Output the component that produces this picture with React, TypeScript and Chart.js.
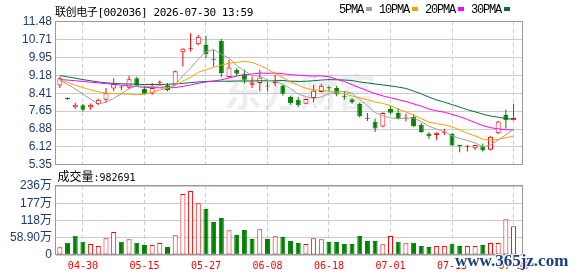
import React, { useEffect, useRef } from 'react';
import { Chart, registerables } from 'chart.js';
Chart.register(...registerables);

// ---------- data ----------
const dates = [
  '04-27','04-28','04-29','04-30','05-06','05-07','05-08','05-11','05-12','05-13',
  '05-14','05-15','05-18','05-19','05-20','05-21','05-22','05-25','05-26','05-27',
  '05-28','05-29','06-01','06-02','06-03','06-04','06-05','06-08','06-09','06-10',
  '06-11','06-12','06-15','06-16','06-17','06-18','06-22','06-23','06-24','06-25',
  '06-26','06-29','06-30','07-01','07-02','07-03','07-06','07-07','07-08','07-09',
  '07-10','07-13','07-21','07-22','07-23','07-24','07-27','07-28','07-29','07-30',
];
const tickIdx = [3, 11, 19, 27, 35, 43, 51, 59];

const opens = [
  8.75, 8.20, 7.81, 7.90, 7.81, 7.95, 8.14, 8.62, 8.70, 8.65,
  9.06, 8.61, 8.42, 8.87, 8.76, 8.79, 10.17, 10.30, 10.51, 10.48,
  9.87, 10.66, 9.11, 9.42, 9.23, 8.78, 8.85, 8.72, 8.85, 8.75,
  8.25, 8.14, 7.97, 8.21, 8.47, 8.65, 8.64, 8.29, 8.16, 7.95,
  7.34, 7.19, 6.99, 7.74, 7.57, 7.33, 7.40, 7.07, 6.69, 6.63,
  6.72, 6.67, 6.17, 6.12, 6.06, 6.16, 6.00, 6.70, 7.48, 7.26,
];
const highs = [
  9.12, 8.23, 8.01, 7.95, 7.98, 8.18, 8.64, 9.06, 8.74, 9.16,
  9.12, 8.71, 8.85, 8.96, 8.85, 9.39, 10.34, 10.98, 10.91, 10.87,
  10.27, 10.74, 9.85, 9.49, 9.42, 9.13, 9.42, 8.92, 9.20, 8.78,
  8.31, 8.25, 8.19, 8.78, 8.82, 8.71, 8.74, 8.50, 8.20, 8.02,
  7.57, 7.33, 7.60, 7.88, 7.78, 7.54, 7.50, 7.14, 6.74, 6.74,
  6.89, 6.72, 6.20, 6.20, 6.20, 6.26, 6.57, 7.23, 7.71, 7.97,
];
const lows = [
  8.64, 8.14, 7.73, 7.63, 7.71, 7.91, 8.03, 8.50, 8.54, 8.59,
  8.71, 8.38, 8.35, 8.75, 8.50, 8.76, 9.56, 10.20, 10.47, 9.92,
  9.56, 9.11, 9.10, 9.14, 8.82, 8.64, 8.50, 8.50, 8.71, 8.32,
  7.92, 7.83, 7.95, 8.03, 8.45, 8.50, 8.29, 8.14, 7.97, 7.38,
  7.23, 6.76, 6.96, 7.50, 7.29, 7.21, 6.97, 6.72, 6.46, 6.40,
  6.62, 6.15, 5.89, 5.92, 5.98, 5.92, 5.97, 6.67, 6.89, 7.26,
];
const closes = [
  9.06, 8.17, 7.92, 7.71, 7.92, 8.14, 8.42, 8.81, 8.66, 9.02,
  8.74, 8.39, 8.64, 8.89, 8.55, 9.36, 10.32, 10.34, 10.84, 10.09,
  9.85, 9.28, 9.52, 9.25, 8.99, 8.88, 9.09, 8.70, 8.92, 8.39,
  7.99, 7.90, 8.17, 8.52, 8.74, 8.63, 8.36, 8.27, 8.04, 7.43,
  7.32, 6.90, 7.57, 7.58, 7.31, 7.37, 7.00, 6.76, 6.57, 6.72,
  6.78, 6.18, 6.15, 6.16, 6.20, 5.96, 6.55, 7.20, 7.26, 7.36,
];
const volumes = [
  262000, 421000, 660000, 455000, 376000, 307000, 569000, 785000, 455000, 535000,
  421000, 341000, 341000, 410000, 273000, 672000, 2083000, 2185000, 1764000, 1571000,
  1127000, 1263000, 842000, 683000, 854000, 546000, 876000, 546000, 637000, 615000,
  478000, 410000, 376000, 569000, 535000, 444000, 444000, 376000, 376000, 649000,
  478000, 478000, 364000, 649000, 455000, 398000, 421000, 307000, 273000, 307000,
  307000, 387000, 307000, 307000, 307000, 341000, 410000, 410000, 1218000, 982691,
];
const ma5 = [
  8.96, 8.80, 8.60, 8.38, 8.16, 7.97, 8.02, 8.20, 8.39, 8.61,
  8.73, 8.72, 8.69, 8.74, 8.64, 8.77, 9.16, 9.49, 9.88, 10.19,
  10.29, 10.08, 9.92, 9.60, 9.38, 9.18, 9.15, 8.98, 8.92, 8.80,
  8.62, 8.38, 8.27, 8.19, 8.26, 8.39, 8.48, 8.50, 8.41, 8.15,
  7.88, 7.59, 7.45, 7.36, 7.33, 7.34, 7.36, 7.20, 7.00, 6.88,
  6.77, 6.60, 6.48, 6.39, 6.29, 6.12, 6.20, 6.41, 6.63, 6.87,
];
const ma10 = [
  8.99, 8.88, 8.76, 8.66, 8.56, 8.48, 8.42, 8.40, 8.39, 8.38,
  8.35, 8.37, 8.45, 8.56, 8.63, 8.75, 8.94, 9.09, 9.31, 9.42,
  9.53, 9.62, 9.70, 9.74, 9.78, 9.74, 9.61, 9.45, 9.26, 9.09,
  8.90, 8.76, 8.63, 8.56, 8.53, 8.51, 8.43, 8.39, 8.30, 8.21,
  8.14, 8.04, 7.98, 7.88, 7.74, 7.61, 7.48, 7.33, 7.18, 7.11,
  7.06, 6.98, 6.84, 6.70, 6.59, 6.45, 6.40, 6.44, 6.51, 6.58,
];
const ma20 = [
  9.00, 8.98, 8.95, 8.92, 8.89, 8.86, 8.83, 8.80, 8.76, 8.73,
  8.70, 8.67, 8.65, 8.65, 8.64, 8.66, 8.71, 8.77, 8.84, 8.90,
  8.94, 8.99, 9.07, 9.15, 9.21, 9.24, 9.28, 9.27, 9.28, 9.25,
  9.21, 9.19, 9.17, 9.15, 9.16, 9.12, 9.02, 8.92, 8.78, 8.65,
  8.52, 8.40, 8.30, 8.22, 8.14, 8.06, 7.96, 7.86, 7.74, 7.66,
  7.60, 7.51, 7.41, 7.29, 7.16, 7.03, 6.94, 6.89, 6.85, 6.84,
];
const ma30 = [
  9.17, 9.12, 9.06, 9.00, 8.95, 8.90, 8.86, 8.84, 8.82, 8.81,
  8.80, 8.79, 8.79, 8.79, 8.80, 8.81, 8.84, 8.87, 8.90, 8.92,
  8.93, 8.93, 8.93, 8.94, 8.94, 8.94, 8.95, 8.95, 8.95, 8.96,
  8.93, 8.92, 8.93, 8.95, 8.98, 9.00, 8.99, 8.98, 8.96, 8.90,
  8.86, 8.81, 8.77, 8.73, 8.68, 8.62, 8.51, 8.39, 8.25, 8.13,
  8.03, 7.93, 7.82, 7.71, 7.62, 7.52, 7.44, 7.39, 7.33, 7.30,
];
const priceTicks = [5.35, 6.12, 6.88, 7.65, 8.41, 9.18, 9.95, 10.71, 11.48];
const volTicks = [0, 589000, 1178000, 1767000, 2356000];
const volTickLabels = ['0', '58.90万', '118万', '177万', '236万'];
const titleText = '联创电子[002036] 2026-07-30 13:59';
const legendNames = ['5PMA', '10PMA', '20PMA', '30PMA'];
const volLabelName = '成交量';
const volLabelValue = ':982691';
const watermarkCn = '东方财富';
const watermarkUrl = 'www.365jz.com';

// ---------- styles ----------
const RED = '#ff0000';
const GREEN = '#008000';
const MA_COLORS = ['#a0a0a0', '#f5a200', '#ff00ff', '#00703c'];
const GRID = '#cccccc';
const FRAME = '#999999';
const AXIS_TEXT = '#1d3b6f';
const X_MIN = -0.5;
const X_MAX = 60.19;

const isUp = (i: number) => closes[i] >= opens[i];
const volUp = (i: number) => (i === 0 ? closes[0] >= opens[0] : closes[i] >= closes[i - 1]);

const tickFont = { family: '"Liberation Sans", "Noto Sans CJK SC", sans-serif', size: 12 };

function frameRect(chart: any) {
  const { ctx, chartArea: a } = chart;
  const f = (v: number) => Math.floor(v - 0.3) + 0.5;
  ctx.save();
  ctx.strokeStyle = FRAME;
  ctx.lineWidth = 1;
  ctx.setLineDash([]);
  ctx.strokeRect(f(a.left), f(a.top), f(a.right) - f(a.left), f(a.bottom) - f(a.top));
  ctx.restore();
}

const xAxisCommon = {
  type: 'linear' as const,
  min: X_MIN,
  max: X_MAX,
  offset: false,
  afterBuildTicks: (axis: any) => {
    axis.ticks = tickIdx.map((v) => ({ value: v }));
  },
  grid: { color: GRID, drawTicks: false, offset: false },
  border: { display: false, dash: [4, 3] },
};

function priceConfig(): any {
  const maSets = [ma5, ma10, ma20, ma30].map((arr, k) => ({
    type: 'line',
    label: legendNames[k],
    data: arr.map((v, i) => ({ x: i, y: v })),
    borderColor: MA_COLORS[k],
    borderWidth: 1,
    pointRadius: 0,
    tension: 0,
    order: 0,
  }));
  const bodies = {
    type: 'bar',
    label: 'body',
    data: opens.map((o, i) => ({ x: i, y: [o, closes[i]] })),
    backgroundColor: (c: any) => (isUp(c.dataIndex) ? '#ffffff' : GREEN),
    borderColor: (c: any) => (isUp(c.dataIndex) ? RED : GREEN),
    borderWidth: 1,
    borderSkipped: false,
    barThickness: 5,
    minBarLength: 1,
    grouped: false,
    inflateAmount: 0,
    order: 1,
  };
  const wicks = {
    type: 'bar',
    label: 'wick',
    data: lows.map((l, i) => ({ x: i, y: [l, highs[i]] })),
    backgroundColor: (c: any) => (isUp(c.dataIndex) ? RED : GREEN),
    borderWidth: 0,
    barThickness: 1,
    grouped: false,
    inflateAmount: 0,
    order: 2,
  };
  const textPlugin = {
    id: 'priceText',
    beforeDatasetsDraw(chart: any) {
      const { ctx } = chart;
      ctx.save();
      ctx.font = 'bold 38px "Noto Sans CJK SC"';
      ctx.fillStyle = 'rgba(185,185,200,0.24)';
      ctx.textBaseline = 'middle';
      ctx.textAlign = 'left';
      ctx.fillText(watermarkCn, 224, 92);
      ctx.restore();
    },
    afterDraw(chart: any) {
      frameRect(chart);
      const { ctx } = chart;
      ctx.save();
      ctx.fillStyle = '#000000';
      ctx.textBaseline = 'alphabetic';
      ctx.textAlign = 'left';
      ctx.font = '11px "DejaVu Sans Mono", "Noto Sans CJK SC"';
      (ctx as any).letterSpacing = '-0.4px';
      ctx.fillText(titleText, 55, 16);
      ctx.font = '12px "Liberation Mono", monospace';
      (ctx as any).letterSpacing = '-1.2px';
      let x = 339;
      legendNames.forEach((name, k) => {
        ctx.fillStyle = '#000000';
        ctx.fillText(name, x, 12.7);
        x += name.length * 6 + 3;
        ctx.fillStyle = MA_COLORS[k];
        ctx.fillRect(x, 7, 6, 4);
        x += 6 + 7;
      });
      (ctx as any).letterSpacing = '0px';
      ctx.restore();
    },
  };
  return {
    type: 'bar',
    data: { datasets: [...maSets, bodies, wicks] },
    options: {
      animation: false,
      responsive: false,
      devicePixelRatio: 1,
      events: [],
      layout: { padding: { top: 21.7, right: 55.3, bottom: 10.7, left: 0 } },
      plugins: { legend: { display: false }, tooltip: { enabled: false }, title: { display: false } },
      scales: {
        x: {
          ...xAxisCommon,
          ticks: { display: false },
          afterFit: (s: any) => { s.height = 0; },
        },
        y: {
          type: 'linear',
          min: 5.35,
          max: 11.48,
          beginAtZero: false,
          afterBuildTicks: (axis: any) => {
            axis.ticks = priceTicks.map((v) => ({ value: v }));
          },
          afterFit: (s: any) => { s.width = 56; },
          ticks: {
            padding: 4,
            autoSkip: false,
            font: tickFont,
            color: AXIS_TEXT,
            callback: (v: any) => Number(v).toFixed(2),
          },
          grid: { color: GRID, drawTicks: false },
          border: { display: false },
        },
      },
    },
    plugins: [textPlugin],
  };
}

function volConfig(): any {
  const bars = {
    type: 'bar',
    label: 'volume',
    data: volumes.map((v, i) => ({ x: i, y: v })),
    backgroundColor: (c: any) => (volUp(c.dataIndex) ? '#ffffff' : GREEN),
    borderColor: (c: any) => (volUp(c.dataIndex) ? RED : GREEN),
    borderWidth: 1,
    borderSkipped: false,
    barThickness: 5,
    grouped: false,
    inflateAmount: 0,
  };
  const textPlugin = {
    id: 'volText',
    afterDraw(chart: any) {
      frameRect(chart);
      const { ctx } = chart;
      ctx.save();
      ctx.fillStyle = '#000000';
      ctx.textBaseline = 'alphabetic';
      ctx.textAlign = 'left';
      ctx.font = '12px "Noto Sans CJK SC"';
      ctx.fillText(volLabelName, 57.5, 12.7);
      ctx.font = '10px "DejaVu Sans Mono"';
      ctx.fillText(volLabelValue, 57.5 + 36, 12.7);
      ctx.font = 'bold 17px "Liberation Serif"';
      ctx.lineWidth = 2;
      ctx.strokeStyle = '#ffffff';
      ctx.strokeText(watermarkUrl, 455, 98.3);
      ctx.fillStyle = '#1c3f80';
      ctx.fillText(watermarkUrl, 455, 98.3);
      ctx.restore();
    },
  };
  return {
    type: 'bar',
    data: { datasets: [bars] },
    options: {
      animation: false,
      responsive: false,
      devicePixelRatio: 1,
      events: [],
      layout: { padding: { top: 18, right: 55.3, bottom: 0, left: 0 } },
      plugins: { legend: { display: false }, tooltip: { enabled: false }, title: { display: false } },
      scales: {
        x: {
          ...xAxisCommon,
          afterFit: (s: any) => { s.height = 21; },
          ticks: {
            padding: 5,
            autoSkip: false,
            maxRotation: 0,
            minRotation: 0,
            font: { family: '"DejaVu Sans Mono", monospace', size: 10 },
            color: RED,
            callback: (v: any) => dates[Math.round(Number(v))] ?? '',
          },
        },
        y: {
          type: 'linear',
          min: 0,
          max: 2356000,
          afterBuildTicks: (axis: any) => {
            axis.ticks = volTicks.map((v) => ({ value: v }));
          },
          afterFit: (s: any) => { s.width = 56; },
          ticks: {
            padding: 4,
            autoSkip: false,
            font: tickFont,
            color: AXIS_TEXT,
            callback: (_v: any, i: number) => volTickLabels[i],
          },
          grid: { color: GRID, drawTicks: false },
          border: { display: false },
        },
      },
    },
    plugins: [textPlugin],
  };
}

export default function App() {
  const priceRef = useRef<HTMLCanvasElement>(null);
  const volRef = useRef<HTMLCanvasElement>(null);
  useEffect(() => {
    const c1 = new Chart(priceRef.current as HTMLCanvasElement, priceConfig());
    const c2 = new Chart(volRef.current as HTMLCanvasElement, volConfig());
    return () => {
      c1.destroy();
      c2.destroy();
    };
  }, []);
  return (
    <div style={{ position: 'fixed', left: 0, top: 0, width: 578, height: 276, background: '#ffffff', overflow: 'hidden' }}>
      <canvas ref={priceRef} width={578} height={176} style={{ position: 'absolute', left: 0, top: 0, width: 578, height: 176 }} />
      <canvas ref={volRef} width={578} height={108} style={{ position: 'absolute', left: 0, top: 168, width: 578, height: 108 }} />
    </div>
  );
}
